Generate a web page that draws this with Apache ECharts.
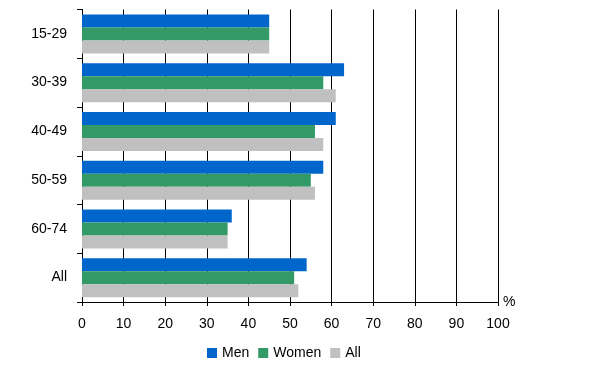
<!DOCTYPE html>
<html><head><meta charset="utf-8">
<script src="https://cdn.jsdelivr.net/npm/echarts@6/dist/echarts.min.js"></script>
<style>html,body{margin:0;padding:0;background:#fff}#c{width:593px;height:383px}</style>
</head><body><div id="c"></div>
<script>
const categories = ["15-29", "30-39", "40-49", "50-59", "60-74", "All"];
const men = [45, 63, 61, 58, 36, 54];
const women = [45, 58, 56, 55, 35, 51];
const all = [45, 61, 58, 56, 35, 52];
const seriesNames = ["Men", "Women", "All"];
const xTicks = { min: 0, max: 100, interval: 10 };

const colors = ["#0066CC", "#339966", "#C0C0C0"];
const font = "'Liberation Sans', Arial, sans-serif";
const chart = echarts.init(document.getElementById('c'), null, { renderer: 'canvas' });
const data = [men, women, all];
chart.setOption({
  animation: false,
  grid: { left: 82, right: 95, top: 9.5, bottom: 81, containLabel: false },
  legend: {
    left: 202, top: 341, itemWidth: 10, itemHeight: 10, itemGap: 9,
    icon: 'rect',
    textStyle: { fontFamily: font, fontSize: 14, color: '#000' },
    data: seriesNames
  },
  xAxis: {
    type: 'value', min: xTicks.min, max: xTicks.max, interval: xTicks.interval,
    name: '%', nameLocation: 'end', nameGap: 5,
    nameTextStyle: { fontFamily: font, fontSize: 14, color: '#000', verticalAlign: 'middle', padding: [6, 0, 0, 0] },
    axisLine: { show: true, lineStyle: { color: '#000', width: 1 } },
    axisTick: { show: true, length: 4, lineStyle: { color: '#000' } },
    axisLabel: { fontFamily: font, fontSize: 14, color: '#000', margin: 15 },
    splitLine: { show: true, lineStyle: { color: '#000', width: 1 } }
  },
  yAxis: {
    type: 'category', data: categories, inverse: true,
    axisLine: { show: true, lineStyle: { color: '#000', width: 1 } },
    axisTick: { show: true, length: 5, lineStyle: { color: '#000' } },
    axisLabel: { fontFamily: font, fontSize: 14, color: '#000', margin: 15 },
    splitLine: { show: false }
  },
  series: seriesNames.map((n, i) => ({
    name: n, type: 'bar', data: data[i],
    barGap: '0%', barCategoryGap: '20%',
    itemStyle: { color: colors[i] }
  }))
});
</script></body></html>
